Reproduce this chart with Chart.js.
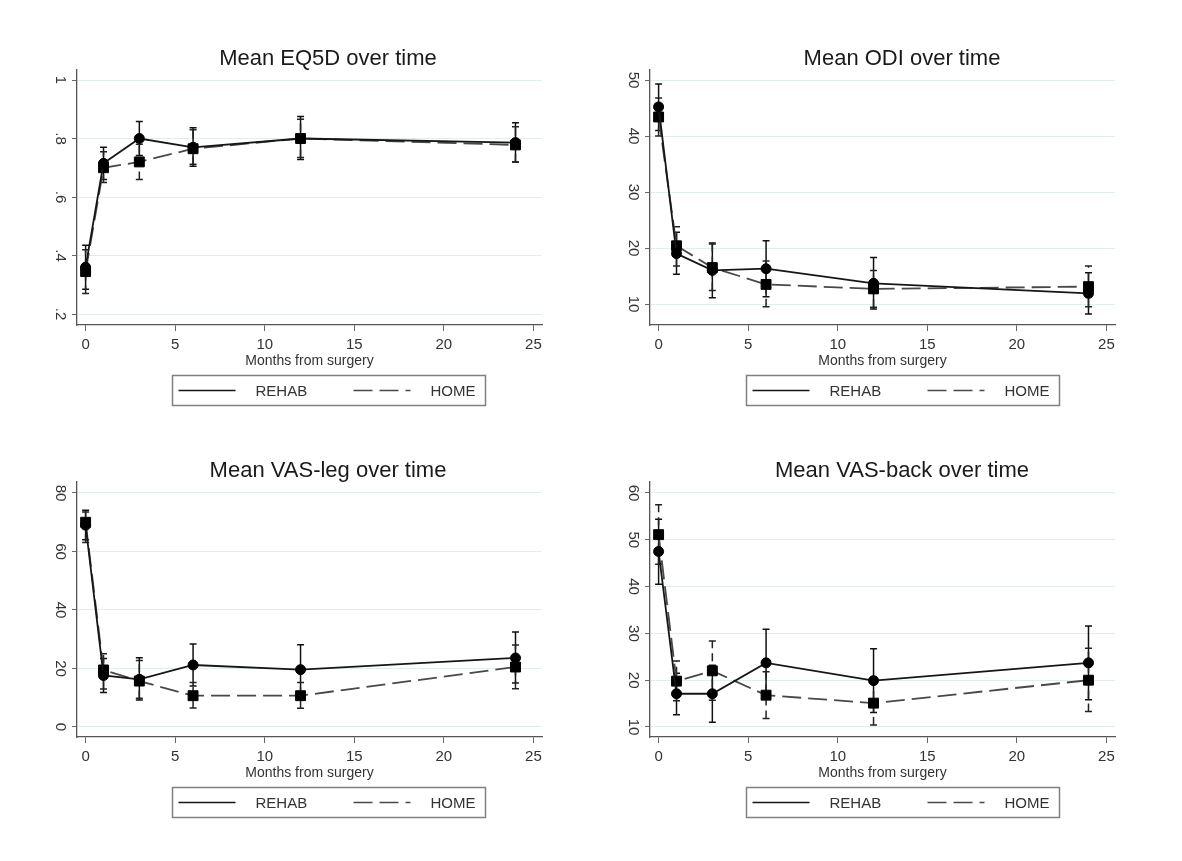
<!DOCTYPE html>
<html>
<head>
<meta charset="utf-8">
<script src="https://cdn.jsdelivr.net/npm/chart.js@4.4.1/dist/chart.umd.min.js"></script>
<style>
  html, body { margin: 0; padding: 0; background: #ffffff; }
  body { width: 1182px; height: 861px; position: relative; overflow: hidden; }
  canvas { position: absolute; }
</style>
</head>
<body>
<canvas id="c1" width="576" height="430" style="left:40px;top:0px;"></canvas>
<canvas id="c2" width="560" height="430" style="left:622px;top:0px;"></canvas>
<canvas id="c3" width="576" height="430" style="left:40px;top:412px;"></canvas>
<canvas id="c4" width="560" height="430" style="left:622px;top:412px;"></canvas>
<script>
// ---------- data ----------
const months = [0, 1, 3, 6, 12, 24];
const monthTicks = [0, 5, 10, 15, 20, 25];
const seriesNames = ['REHAB', 'HOME'];
const xTitle = 'Months from surgery';

const eq5dTitle = 'Mean EQ5D over time';
const eq5dRehab   = [0.36, 0.715, 0.80, 0.77, 0.80, 0.786];
const eq5dRehabLo = [0.285, 0.66, 0.742, 0.705, 0.728, 0.72];
const eq5dRehabHi = [0.435, 0.77, 0.858, 0.837, 0.875, 0.854];
const eq5dHome    = [0.345, 0.70, 0.72, 0.765, 0.80, 0.778];
const eq5dHomeLo  = [0.27, 0.65, 0.66, 0.712, 0.735, 0.72];
const eq5dHomeHi  = [0.42, 0.755, 0.78, 0.83, 0.866, 0.84];
const eq5dTicks   = [0.2, 0.4, 0.6, 0.8, 1];
const eq5dTickLabels = ['.2', '.4', '.6', '.8', '1'];

const odiTitle = 'Mean ODI over time';
const odiRehab   = [45.2, 19.0, 16.0, 16.3, 13.7, 11.9];
const odiRehabLo = [41.0, 15.3, 11.1, 11.3, 9.1, 8.2];
const odiRehabHi = [49.3, 22.8, 20.9, 21.3, 18.3, 15.6];
const odiHome    = [43.4, 20.4, 16.5, 13.5, 12.7, 13.1];
const odiHomeLo  = [40.0, 16.8, 12.4, 9.5, 9.4, 9.5];
const odiHomeHi  = [46.8, 23.8, 20.7, 17.7, 16.0, 16.8];
const odiTicks   = [10, 20, 30, 40, 50];
const odiTickLabels = ['10', '20', '30', '40', '50'];

const legTitle = 'Mean VAS-leg over time';
const legRehab   = [69.0, 17.6, 16.3, 21.2, 19.6, 23.6];
const legRehabLo = [64.0, 11.8, 9.2, 14.0, 11.0, 15.0];
const legRehabHi = [74.1, 23.4, 23.7, 28.4, 28.1, 32.5];
const legHome    = [70.0, 19.5, 15.7, 10.7, 10.7, 20.5];
const legHomeLo  = [63.1, 13.0, 9.8, 6.5, 6.4, 13.1];
const legHomeHi  = [73.5, 25.0, 22.7, 15.2, 15.2, 28.0];
const legTicks   = [0, 20, 40, 60, 80];
const legTickLabels = ['0', '20', '40', '60', '80'];

const backTitle = 'Mean VAS-back over time';
const backRehab   = [47.5, 17.1, 17.1, 23.7, 19.9, 23.7];
const backRehabLo = [40.5, 12.6, 11.0, 16.4, 13.1, 15.8];
const backRehabHi = [54.4, 21.5, 23.2, 30.9, 26.7, 31.6];
const backHome    = [51.1, 19.8, 22.0, 16.8, 15.1, 20.0];
const backHomeLo  = [44.8, 15.6, 15.7, 11.8, 10.4, 13.3];
const backHomeHi  = [57.5, 24.1, 28.4, 21.8, 19.8, 26.8];
const backTicks   = [10, 20, 30, 40, 50, 60];
const backTickLabels = ['10', '20', '30', '40', '50', '60'];

// ---------- styling ----------
const FONT = '"Liberation Sans", Arial, Helvetica, sans-serif';
const TEXT = '#333333';
const REHAB_COLOR = '#161616';
const HOME_COLOR = '#484848';
const HOME_DASH = [19, 7];

const errorBars = {
  id: 'errorBars',
  beforeDatasetsDraw(chart) {
    const { ctx } = chart;
    const xs = chart.scales.x, ys = chart.scales.y;
    chart.data.datasets.forEach(ds => {
      ctx.save();
      ctx.strokeStyle = ds.errColor;
      ctx.lineWidth = 1.5;
      ds.data.forEach((p, i) => {
        const px = xs.getPixelForValue(p.x);
        const y1 = ys.getPixelForValue(ds.errLo[i]);
        const y2 = ys.getPixelForValue(ds.errHi[i]);
        ctx.setLineDash(ds.errDash);
        ctx.beginPath(); ctx.moveTo(px, y1); ctx.lineTo(px, y2); ctx.stroke();
        ctx.setLineDash([]);
        ctx.beginPath();
        ctx.moveTo(px - 3.5, y1); ctx.lineTo(px + 3.5, y1);
        ctx.moveTo(px - 3.5, y2); ctx.lineTo(px + 3.5, y2);
        ctx.stroke();
      });
      ctx.restore();
    });
  }
};

const boxLegend = {
  id: 'boxLegend',
  afterDraw(chart) {
    const { ctx, chartArea, width } = chart;
    const bw = 313, bh = 30;
    const bx = Math.round(width / 2 - bw / 2) + 0.5;
    const by = Math.round(chartArea.bottom + 50) + 0.5;
    const my = by + bh / 2;
    const ds = chart.data.datasets;
    ctx.save();
    ctx.strokeStyle = '#808080';
    ctx.lineWidth = 1.5;
    ctx.setLineDash([]);
    ctx.strokeRect(bx, by, bw, bh);
    ctx.lineWidth = 1.6;
    ctx.strokeStyle = ds[0].borderColor;
    ctx.beginPath(); ctx.moveTo(bx + 6, my); ctx.lineTo(bx + 63, my); ctx.stroke();
    ctx.strokeStyle = ds[1].borderColor;
    ctx.setLineDash(HOME_DASH);
    ctx.beginPath(); ctx.moveTo(bx + 181, my); ctx.lineTo(bx + 238, my); ctx.stroke();
    ctx.setLineDash([]);
    ctx.fillStyle = TEXT;
    ctx.font = '15px ' + FONT;
    ctx.textBaseline = 'middle';
    ctx.textAlign = 'left';
    ctx.fillText(ds[0].label, bx + 83, my + 1);
    ctx.fillText(ds[1].label, bx + 258, my + 1);
    ctx.restore();
  }
};

function makeChart(id, title, rehab, rehabLo, rehabHi, home, homeLo, homeHi,
                   yTicks, yLabels, yMin, yMax, yAxisW, padRight, tickPad) {
  const pts = arr => months.map((m, i) => ({ x: m, y: arr[i] }));
  return new Chart(document.getElementById(id), {
    type: 'line',
    data: {
      datasets: [
        {
          label: seriesNames[0], data: pts(rehab), errLo: rehabLo, errHi: rehabHi,
          errColor: '#111111', errDash: [],
          borderColor: REHAB_COLOR, borderWidth: 1.8, tension: 0,
          pointStyle: 'circle', pointRadius: 5, pointBackgroundColor: '#000',
          pointBorderColor: '#000', pointBorderWidth: 1, fill: false
        },
        {
          label: seriesNames[1], data: pts(home), errLo: homeLo, errHi: homeHi,
          errColor: '#222222', errDash: [8, 5],
          borderColor: HOME_COLOR, borderWidth: 1.8, borderDash: HOME_DASH, tension: 0,
          pointStyle: 'rect', pointRadius: 7, pointBackgroundColor: '#000',
          pointBorderColor: '#000', pointBorderWidth: 1, fill: false
        }
      ]
    },
    options: {
      responsive: false,
      animation: false,
      devicePixelRatio: 1,
      layout: { padding: { left: 0, right: 0, top: 0, bottom: 57 } },
      plugins: {
        legend: { display: false },
        tooltip: { enabled: false },
        title: {
          display: true, text: title, color: '#1a1a1a',
          font: { family: FONT, size: 22, weight: 'normal', lineHeight: 1.0 },
          padding: { top: 48, bottom: 0 }
        }
      },
      scales: {
        x: {
          type: 'linear', min: -0.48, max: 25.48,
          afterBuildTicks: s => { s.ticks = monthTicks.map(v => ({ value: v })); },
          afterFit: s => { s.height = 48; },
          ticks: { color: TEXT, font: { family: FONT, size: 15 }, padding: 5, maxRotation: 0,
                   callback: v => String(v) },
          grid: { drawOnChartArea: false, drawTicks: true, tickLength: 6, tickColor: '#666', tickWidth: 1 },
          border: { display: true, color: '#555', width: 1.3 },
          title: { display: true, text: xTitle, color: TEXT,
                   font: { family: FONT, size: 14, lineHeight: 1.2 }, padding: { top: 0, bottom: 3.6 } }
        },
        y: {
          type: 'linear', min: yMin, max: yMax,
          afterBuildTicks: s => { s.ticks = yTicks.map(v => ({ value: v })); },
          afterFit: s => { s.width = yAxisW; },
          ticks: { color: TEXT, font: { family: FONT, size: 15 }, minRotation: -90, maxRotation: -90,
                   crossAlign: 'center', padding: tickPad,
                   callback: v => yLabels[yTicks.indexOf(v)] },
          grid: { color: '#e3eded', lineWidth: 1, drawTicks: true, tickLength: 5, tickColor: '#666', tickWidth: 1 },
          border: { display: true, color: '#555', width: 1.3 }
        },
        ySpacer: {
          type: 'linear', position: 'right', display: true, min: 0, max: 1,
          afterFit: s => { s.width = padRight; },
          ticks: { display: false },
          grid: { display: false, drawTicks: false },
          border: { display: false }
        }
      }
    },
    plugins: [errorBars, boxLegend]
  });
}

makeChart('c1', eq5dTitle, eq5dRehab, eq5dRehabLo, eq5dRehabHi, eq5dHome, eq5dHomeLo, eq5dHomeHi,
          eq5dTicks, eq5dTickLabels, 0.1624, 1.0342, 37, 74, 6);
makeChart('c2', odiTitle, odiRehab, odiRehabLo, odiRehabHi, odiHome, odiHomeLo, odiHomeHi,
          odiTicks, odiTickLabels, 6.25, 51.79, 28, 67, 4);
makeChart('c3', legTitle, legRehab, legRehabLo, legRehabHi, legHome, legHomeLo, legHomeHi,
          legTicks, legTickLabels, -3.42, 83.76, 37, 74, 4);
makeChart('c4', backTitle, backRehab, backRehabLo, backRehabHi, backHome, backHomeLo, backHomeHi,
          backTicks, backTickLabels, 7.86, 62.35, 28, 67, 4);
</script>
</body>
</html>
